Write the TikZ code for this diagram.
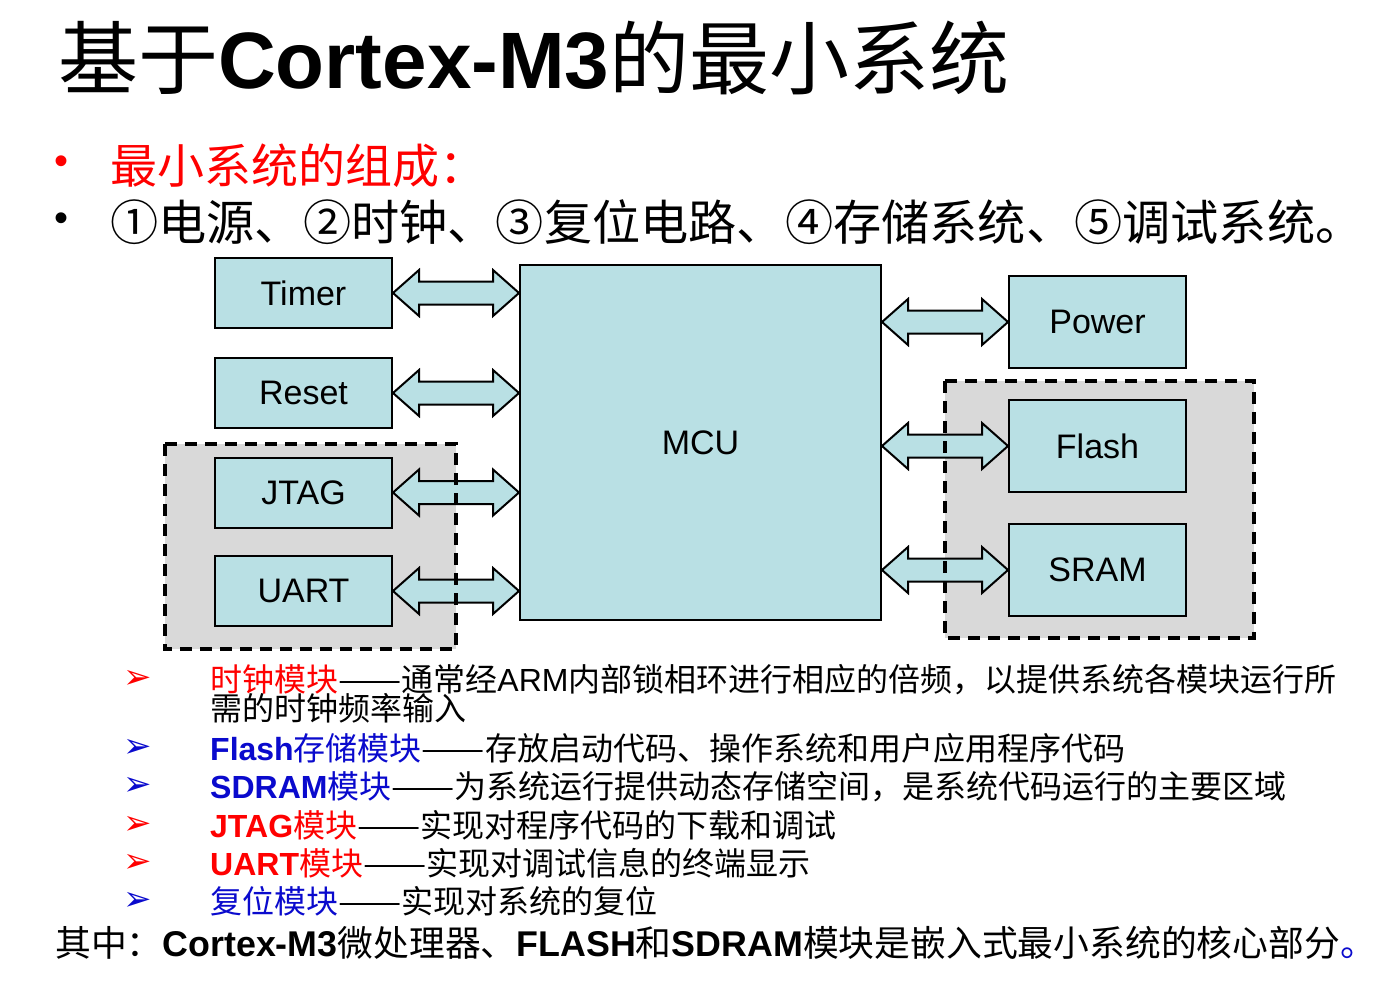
\documentclass[tikz,border=0pt]{standalone}
\usepackage{fontspec}
\usepackage{graphicx}
\setmainfont{Liberation Sans}
\newfontfamily\cjk{Noto Sans CJK SC}
\newfontfamily\dv{DejaVu Sans}
\usetikzlibrary{calc}
\definecolor{cyanF}{RGB}{185,224,228}
\definecolor{grayF}{RGB}{217,217,217}
\definecolor{blueT}{RGB}{10,10,205}
\definecolor{redT}{RGB}{255,0,0}
\newcommand{\zh}[1]{{\cjk #1}}
\newcommand{\fs}[1]{\fontsize{#1bp}{#1bp}\selectfont}
\newcommand{\cn}[1]{\makebox[1em]{#1}}
\newcommand{\dd}{\scalebox{1.18}[1]{——}}
\newcommand{\dblarr}[2]{%
  \draw[blockarr] let \p1=(#1), \p2=(#2) in
    (\x1,\y1) -- (\x1+26bp,\y1+23bp) -- (\x1+26bp,\y1+11.5bp) -- (\x2-26bp,\y1+11.5bp)
    -- (\x2-26bp,\y1+23bp) -- (\x2,\y1) -- (\x2-26bp,\y1-23bp) -- (\x2-26bp,\y1-11.5bp)
    -- (\x1+26bp,\y1-11.5bp) -- (\x1+26bp,\y1-23bp) -- cycle;}
\tikzset{
  blk/.style={draw=black, line width=2bp, fill=cyanF, minimum width=177bp, minimum height=70bp,
    font=\fs{34}, inner sep=0},
  grpfill/.style={fill=grayF},
  grpline/.style={draw=black, line width=3.5bp, dash pattern=on 12bp off 8bp},
  blockarr/.style={draw=black, line width=2bp, fill=cyanF, line join=miter},
  rowt/.style={anchor=base west, inner sep=0, font=\fs{32}},
  listmark/.style={inner sep=0, font=\dv\bfseries\fs{34}},
}
\begin{document}
\begin{tikzpicture}[x=1bp,y=-1bp]
\useasboundingbox (0,0) rectangle (1375,990);
\fill[white] (0,0) rectangle (1375,990);

% title
\node[anchor=base west, inner sep=0] (title) at (58,88)
  {\fs{80}\zh{基于}{\bfseries Cortex-M3}\zh{的最小系统}};

% header bullets
\node[inner sep=0, font=\fs{40}, text=redT] (hb1) at (62,165) {•};
\node[inner sep=0, font=\fs{40}] (hb2) at (62,222) {•};
\node[anchor=base west, inner sep=0, font=\fs{47}, text=redT] (h1) at (110,183) {\zh{最小系统的组成：}};
\node[anchor=base west, inner sep=0, font=\fs{48.2}] (h2) at (110,240)
  {\cjk\cn{①}电源、\cn{②}时钟、\cn{③}复位电路、\cn{④}存储系统、\cn{⑤}调试系统。};

% group backgrounds
\fill[grpfill] (165,444) rectangle (456,649);
\fill[grpfill] (945,381) rectangle (1254,638);

% blocks
\node[blk] (timer) at (303.5,293) {Timer};
\node[blk] (reset) at (303.5,393) {Reset};
\node[blk] (jtag) at (303.5,492.5) {JTAG};
\node[blk] (uart) at (303.5,591) {UART};
\node[blk, minimum width=361bp, minimum height=355bp] (mcu) at (700.5,442.5) {MCU};
\node[blk, minimum height=92bp] (power) at (1097.5,322) {Power};
\node[blk, minimum height=92bp] (flash) at (1097.5,446) {Flash};
\node[blk, minimum height=92bp] (sram) at (1097.5,570) {SRAM};

% arrows
\dblarr{timer.east}{mcu.west |- timer.east}
\dblarr{reset.east}{mcu.west |- reset.east}
\dblarr{jtag.east}{mcu.west |- jtag.east}
\dblarr{uart.east}{mcu.west |- uart.east}
\dblarr{mcu.east |- power.west}{power.west}
\dblarr{mcu.east |- flash.west}{flash.west}
\dblarr{mcu.east |- sram.west}{sram.west}

% group borders
\draw[grpline] (165,444) rectangle (456,649);
\draw[grpline] (945,381) rectangle (1254,638);

% list
\node[listmark, text=redT] (m1) at (138,679) {➢};
\node[listmark, text=blueT] (m2) at (138,748) {➢};
\node[listmark, text=blueT] (m3) at (138,786) {➢};
\node[listmark, text=redT] (m4) at (138,825) {➢};
\node[listmark, text=redT] (m5) at (138,863) {➢};
\node[listmark, text=blueT] (m6) at (138,901) {➢};

\node[rowt] (r1) at (210,691)
  {{\color{redT}\zh{时钟模块}}\zh{\dd 通常经}ARM\zh{内部锁相环进行相应的倍频，以提供系统各模块运行所}};
\node[rowt] (r1b) at (210,720) {\zh{需的时钟频率输入}};
\node[rowt] (r2) at (210,760)
  {{\color{blueT}{\bfseries Flash}\zh{存储模块}}\zh{\dd 存放启动代码、操作系统和用户应用程序代码}};
\node[rowt] (r3) at (210,798)
  {{\color{blueT}{\bfseries SDRAM}\zh{模块}}\zh{\dd 为系统运行提供动态存储空间，是系统代码运行的主要区域}};
\node[rowt] (r4) at (210,837)
  {{\color{redT}{\bfseries JTAG}\zh{模块}}\zh{\dd 实现对程序代码的下载和调试}};
\node[rowt] (r5) at (210,875)
  {{\color{redT}{\bfseries UART}\zh{模块}}\zh{\dd 实现对调试信息的终端显示}};
\node[rowt] (r6) at (210,913)
  {{\color{blueT}\zh{复位模块}}\zh{\dd 实现对系统的复位}};

\node[anchor=base west, inner sep=0, font=\fs{35.8}] (foot) at (55,956)
  {\zh{其中：}{\bfseries Cortex-M3}\zh{微处理器、}{\bfseries FLASH}\zh{和}{\bfseries SDRAM}\zh{模块是嵌入式最小系统的核心部分}{\color{blueT}\zh{。}}};
\end{tikzpicture}
\end{document}
